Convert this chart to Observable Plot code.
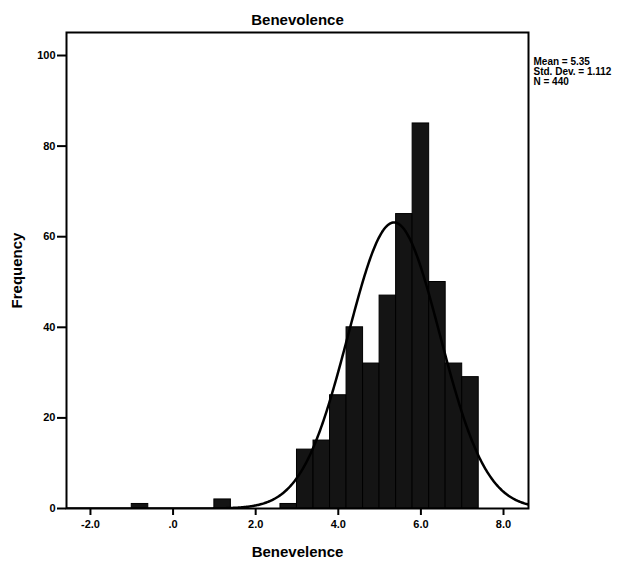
<!DOCTYPE html>
<html>
<head>
<meta charset="utf-8">
<script src="https://cdn.jsdelivr.net/npm/d3@7"></script>
<script src="https://cdn.jsdelivr.net/npm/@observablehq/plot@0.6"></script>
<style>
  html, body { margin: 0; padding: 0; background: #fff; }
  #chart { width: 633px; height: 570px; }
  svg { font-family: "Liberation Sans", Arial, sans-serif; }
</style>
</head>
<body>
<div id="chart"></div>
<script>
// Histogram bins (lower edge, upper edge) and frequencies
const binStart = [-1.0, 1.0, 2.6, 3.0, 3.4, 3.8, 4.2, 4.6, 5.0, 5.4, 5.8, 6.2, 6.6, 7.0];
const binEnd   = [-0.6, 1.4, 3.0, 3.4, 3.8, 4.2, 4.6, 5.0, 5.4, 5.8, 6.2, 6.6, 7.0, 7.4];
const counts   = [1, 2, 1, 13, 15, 25, 40, 32, 47, 65, 85, 50, 32, 29];

// Summary statistics shown in the legend
const statMean = 5.35;
const statSD = 1.112;
const statN = 440;
const binWidth = 0.4;

// Tick labels
const xTicks = [-2, 0, 2, 4, 6, 8];
const xTickLabels = ["-2.0", ".0", "2.0", "4.0", "6.0", "8.0"];
const yTicks = [0, 20, 40, 60, 80, 100];

const bars = binStart.map((x1, i) => ({x1, x2: binEnd[i], count: counts[i]}));

const xDomain = [-2.58, 8.605];
// Fitted normal curve implied by the legend statistics (mean, sd, N, bin width)
const curve = d3.range(xDomain[0], xDomain[1] + 0.001, 0.02).map(x => ({
  x,
  y: statN * binWidth / (statSD * Math.sqrt(2 * Math.PI)) * Math.exp(-0.5 * ((x - statMean) / statSD) ** 2)
}));

const chart = Plot.plot({
  width: 633,
  height: 570,
  marginLeft: 66,
  marginRight: 105,
  marginTop: 32,
  marginBottom: 62,
  style: {fontFamily: "'Liberation Sans', Arial, sans-serif", background: "#fff", color: "#000"},
  x: {domain: xDomain},
  y: {domain: [0, 105.08]},
  marks: [
    Plot.rectY(bars, {x1: "x1", x2: "x2", y: "count", fill: "#141414", stroke: "#000", strokeWidth: 1}),
    Plot.line(curve, {x: "x", y: "y", stroke: "#000", strokeWidth: 2.5, clip: true}),
    Plot.frame({stroke: "#000", strokeWidth: 2}),
    Plot.axisY(yTicks, {
      ticks: yTicks, tickSize: 9, tickPadding: 2, strokeWidth: 2,
      fontSize: 11, fontWeight: "bold",
      label: "Frequency", labelAnchor: "center", labelArrow: "none", labelOffset: 55
    }),
    Plot.axisX(xTicks, {
      ticks: xTicks, tickSize: 7, tickPadding: 5, strokeWidth: 2,
      tickFormat: (d) => xTickLabels[xTicks.indexOf(d)],
      fontSize: 11, fontWeight: "bold",
      label: "Benevelence", labelAnchor: "center", labelArrow: "none", labelOffset: 48
    }),
    Plot.text(["Benevolence"], {frameAnchor: "top", dy: -18, fontSize: 15, fontWeight: "bold"}),
    Plot.text(["Mean = 5.35\nStd. Dev. = 1.112\nN = 440"], {
      frameAnchor: "top-right", dx: 5, dy: 25, textAnchor: "start", lineAnchor: "top",
      fontSize: 10, fontWeight: "bold", lineHeight: 1.0
    })
  ]
});

// make axis labels bold and sized like the reference
chart.querySelectorAll("g[aria-label='y-axis label'] text, g[aria-label='x-axis label'] text").forEach(t => {
  t.setAttribute("font-size", "15");
  t.setAttribute("font-weight", "bold");
});
document.getElementById("chart").appendChild(chart);
</script>
</body>
</html>
